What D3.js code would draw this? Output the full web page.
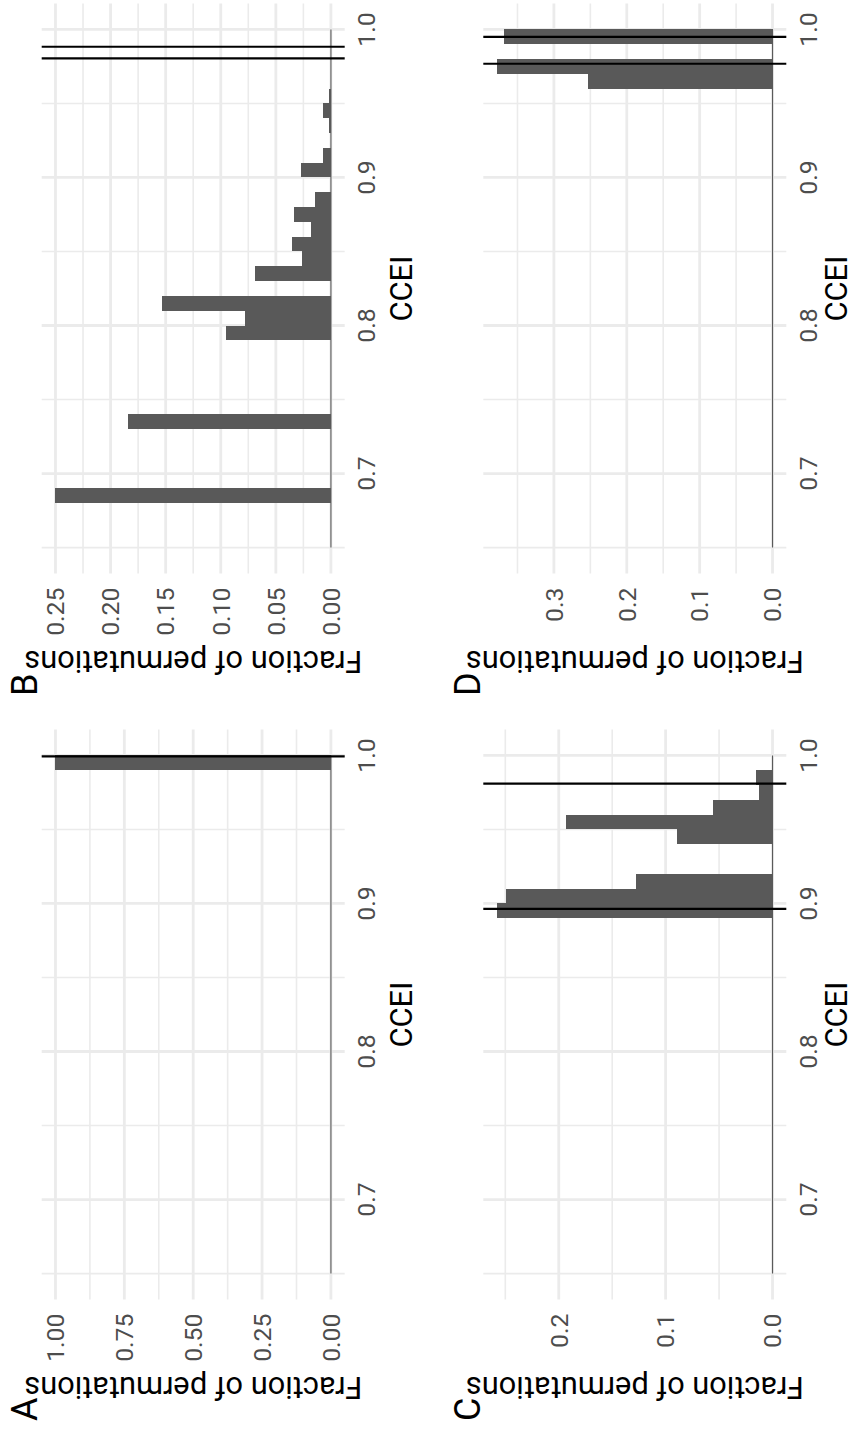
<!DOCTYPE html>
<html>
<head>
<meta charset="utf-8">
<script src="https://cdn.jsdelivr.net/npm/d3@7"></script>
<style>
  html, body { margin: 0; padding: 0; background: #ffffff; }
  svg { display: block; }
  text { font-family: Roboto, "Noto Sans", sans-serif; }
</style>
</head>
<body>
<script>
// CCEI axis (shared by all four panels)
const cceiTicks = [0.7, 0.8, 0.9, 1.0];
const cceiMinor = [0.65, 0.75, 0.85, 0.95];
const cceiRange = [0.65, 1.0];
const binWidth = 0.01;

// Panel A
const binsA = [0.99];
const fracA = [1.0];
const linesA = [0.9993];
const yTicksA = [0, 0.25, 0.5, 0.75, 1.0];
const yLabelsA = ["0.00", "0.25", "0.50", "0.75", "1.00"];

// Panel B
const binsB = [0.68, 0.73, 0.79, 0.80, 0.81, 0.83, 0.84, 0.85, 0.86, 0.87, 0.88, 0.90, 0.91, 0.93, 0.94, 0.95];
const fracB = [0.25, 0.184, 0.095, 0.078, 0.153, 0.069, 0.0266, 0.0353, 0.0184, 0.0335, 0.0145, 0.027, 0.0072, 0.0015, 0.0072, 0.0015];
const linesB = [0.9805, 0.9883];
const yTicksB = [0, 0.05, 0.10, 0.15, 0.20, 0.25];
const yLabelsB = ["0.00", "0.05", "0.10", "0.15", "0.20", "0.25"];

// Panel C
const binsC = [0.89, 0.90, 0.91, 0.94, 0.95, 0.96, 0.97, 0.98];
const fracC = [0.2577, 0.2496, 0.1277, 0.0893, 0.1933, 0.0555, 0.0131, 0.0153];
const linesC = [0.8964, 0.9809];
const yTicksC = [0, 0.1, 0.2];
const yLabelsC = ["0.0", "0.1", "0.2"];

// Panel D
const binsD = [0.96, 0.97, 0.99];
const fracD = [0.253, 0.378, 0.369];
const linesD = [0.9768, 0.995];
const yTicksD = [0, 0.1, 0.2, 0.3];
const yLabelsD = ["0.0", "0.1", "0.2", "0.3"];

const xTitle = "CCEI";
const yTitle = "Fraction of permutations";

// Figure is laid out landscape (W x H) and then turned a quarter turn
// counter-clockwise onto the portrait page.
const W = 1433, H = 855;
const svg = d3.select("body").append("svg")
  .attr("width", H).attr("height", W);
const fig = svg.append("g")
  .attr("transform", `translate(0,${W}) rotate(-90)`);

const panelW = 570, panelH = 303;
const panels = [
  { letter: "A", x0: 133.5, y0: 41.7, bins: binsA, frac: fracA, lines: linesA, ticks: yTicksA, labels: yLabelsA, lx: 12, ly: 37, tx: 67 },
  { letter: "B", x0: 859.5, y0: 41.7, bins: binsB, frac: fracB, lines: linesB, ticks: yTicksB, labels: yLabelsB, lx: 737, ly: 37, tx: 67 },
  { letter: "C", x0: 133.5, y0: 483.3, bins: binsC, frac: fracC, lines: linesC, ticks: yTicksC, labels: yLabelsC, lx: 12, ly: 480, tx: 60.5 },
  { letter: "D", x0: 859.5, y0: 483.3, bins: binsD, frac: fracD, lines: linesD, ticks: yTicksD, labels: yLabelsD, lx: 737, ly: 480, tx: 60.5 }
];

const gridColor = "#ebebeb";
const barColor = "#595959";
const tickColor = "#4d4d4d";
const tickSize = 24.8, titleSize = 30.8;

panels.forEach(p => {
  const pad = 0.05 * (cceiRange[1] - cceiRange[0]);
  const x = d3.scaleLinear()
    .domain([cceiRange[0] - pad, cceiRange[1] + pad])
    .range([p.x0, p.x0 + panelW]);
  const yMax = d3.max(p.frac);
  const y = d3.scaleLinear()
    .domain([-0.05 * yMax, 1.05 * yMax])
    .range([p.y0 + panelH, p.y0]);

  const g = fig.append("g");

  // minor grid (half-way between major ticks)
  const step = p.ticks[1] - p.ticks[0];
  const yMinor = d3.range(step / 2, y.domain()[1], step);
  g.selectAll(".ymin").data(yMinor).join("line")
    .attr("x1", p.x0).attr("x2", p.x0 + panelW)
    .attr("y1", d => y(d)).attr("y2", d => y(d))
    .attr("stroke", gridColor).attr("stroke-width", 1.6);
  g.selectAll(".xmin").data(cceiMinor).join("line")
    .attr("x1", d => x(d)).attr("x2", d => x(d))
    .attr("y1", p.y0).attr("y2", p.y0 + panelH)
    .attr("stroke", gridColor).attr("stroke-width", 1.6);

  // major grid
  g.selectAll(".ymaj").data(p.ticks).join("line")
    .attr("x1", p.x0).attr("x2", p.x0 + panelW)
    .attr("y1", d => y(d)).attr("y2", d => y(d))
    .attr("stroke", gridColor).attr("stroke-width", 2.8);
  g.selectAll(".xmaj").data(cceiTicks).join("line")
    .attr("x1", d => x(d)).attr("x2", d => x(d))
    .attr("y1", p.y0).attr("y2", p.y0 + panelH)
    .attr("stroke", gridColor).attr("stroke-width", 2.8);

  // zero line across the binned range
  g.append("line")
    .attr("x1", x(cceiRange[0])).attr("x2", x(cceiRange[1]))
    .attr("y1", y(0)).attr("y2", y(0))
    .attr("stroke", "#5a5a5a").attr("stroke-width", 1.1);

  // histogram bars
  g.selectAll(".bar").data(p.bins.map((b, i) => ({ b, v: p.frac[i] }))).join("rect")
    .attr("x", d => x(d.b))
    .attr("width", d => x(d.b + binWidth) - x(d.b))
    .attr("y", d => y(d.v))
    .attr("height", d => y(0) - y(d.v))
    .attr("fill", barColor)
    .attr("shape-rendering", "crispEdges");

  // reference lines
  g.selectAll(".vline").data(p.lines).join("line")
    .attr("x1", d => x(d)).attr("x2", d => x(d))
    .attr("y1", p.y0).attr("y2", p.y0 + panelH)
    .attr("stroke", "#000").attr("stroke-width", 2.2);

  // CCEI tick labels
  g.selectAll(".xl").data(cceiTicks).join("text")
    .attr("x", d => x(d)).attr("y", p.y0 + panelH + 30.6)
    .attr("text-anchor", "middle")
    .attr("font-size", tickSize).attr("fill", tickColor)
    .text(d => d3.format(".1f")(d));

  // fraction tick labels
  g.selectAll(".yl").data(p.ticks).join("text")
    .attr("x", p.x0 - 14).attr("y", d => y(d))
    .attr("dy", "0.355em")
    .attr("text-anchor", "end")
    .attr("font-size", tickSize).attr("fill", tickColor)
    .text((d, i) => p.labels[i]);

  // axis titles
  g.append("text")
    .attr("x", p.x0 + panelW / 2).attr("y", p.y0 + panelH + p.tx)
    .attr("text-anchor", "middle")
    .attr("font-size", titleSize).attr("fill", "#000")
    .text(xTitle);
  g.append("text")
    .attr("transform", `translate(${p.x0 - 77},${p.y0 + panelH / 2}) rotate(-90)`)
    .attr("text-anchor", "middle")
    .attr("font-size", titleSize).attr("fill", "#000")
    .text(yTitle);

  // panel letter
  g.append("text")
    .attr("x", p.lx).attr("y", p.ly)
    .attr("font-size", 36).attr("fill", "#000")
    .text(p.letter);
});
</script>
</body>
</html>
